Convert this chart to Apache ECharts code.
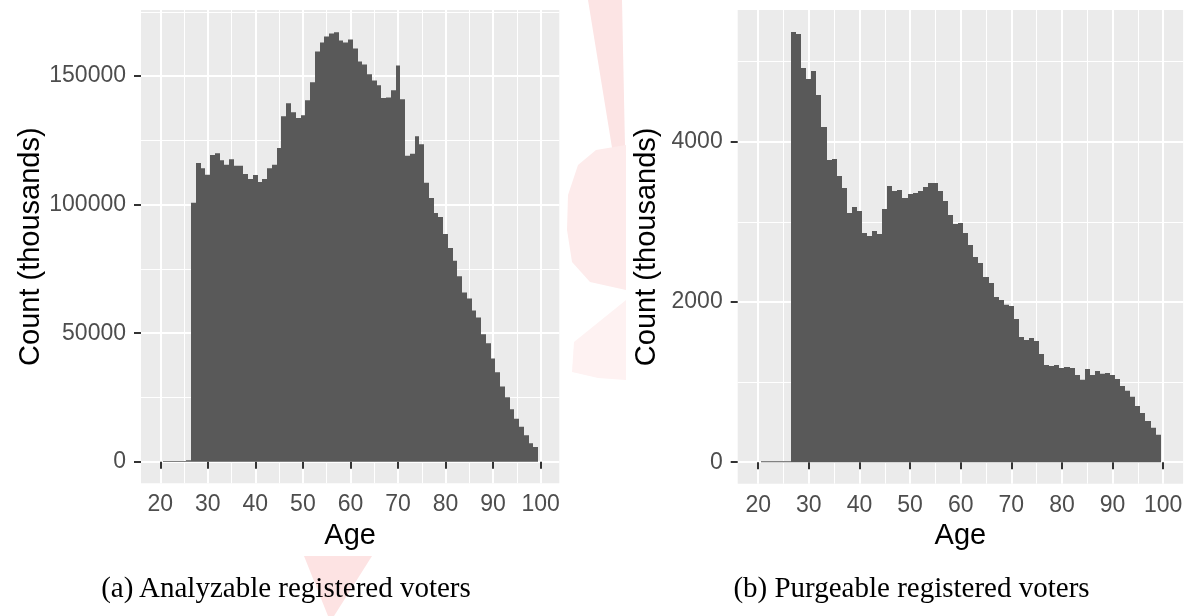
<!DOCTYPE html>
<html>
<head>
<meta charset="utf-8">
<script src="https://cdn.jsdelivr.net/npm/echarts@6/dist/echarts.min.js"></script>
<style>
html,body{margin:0;padding:0;background:#fff;}
#chart{width:1188px;height:616px;position:relative;}
.cap{position:absolute;font-family:"Liberation Serif","DejaVu Serif",serif;font-size:29px;color:#000;white-space:nowrap;transform:translateX(-50%);}
</style>
</head>
<body>
<div id="chart"></div>
<div class="cap" id="capA" style="left:286px;top:571px;">(a) Analyzable registered voters</div>
<div class="cap" id="capB" style="left:911.5px;top:571px;">(b) Purgeable registered voters</div>
<script>
// Bin centres (age, binwidth 1)
const AGES = [21,22,23,24,25,26,27,28,29,30,31,32,33,34,35,36,37,38,39,40,
  41,42,43,44,45,46,47,48,49,50,51,52,53,54,55,56,57,58,59,60,
  61,62,63,64,65,66,67,68,69,70,71,72,73,74,75,76,77,78,79,80,
  81,82,83,84,85,86,87,88,89,90,91,92,93,94,95,96,97,98,99];
const BIN_WIDTH = 1;

// (a) Analyzable registered voters, count (thousands)
const ANALYZABLE = [300,300,300,300,300,550,
  100700,116200,114200,111600,119300,120000,117300,115500,117700,115100,
  115100,111900,110000,111500,108800,110000,114200,115500,122000,134400,
  139400,135900,133700,134800,140600,147600,159600,163100,165400,166600,
  167000,163800,163100,164200,160700,155700,154500,150700,148300,146400,
  141500,141700,144500,154100,141000,119000,119800,126600,123500,108500,
  102600,96800,95200,88600,83100,78200,72200,65800,63500,58800,
  56100,49600,46100,40200,34800,29300,25100,20400,16700,13600,
  10300,7200,5700];

// (b) Purgeable registered voters, count (thousands)
const PURGEABLE = [12,12,12,12,12,12,
  5369,5344,4920,4782,4882,4583,4183,3772,3784,3572,
  3422,3110,3185,3135,2861,2823,2886,2848,3160,3447,
  3385,3397,3298,3348,3360,3385,3435,3485,3485,3385,
  3260,3085,2973,2985,2861,2711,2561,2486,2312,2237,
  2062,2025,1963,1950,1788,1563,1526,1551,1513,1351,
  1214,1201,1214,1176,1189,1176,1089,1027,1164,1089,
  1139,1102,1114,1089,1039,952,890,815,702,615,
  515,428,341];

const X_TICKS = [20,30,40,50,60,70,80,90,100];
const X_MINOR = [25,35,45,55,65,75,85,95];
const YA_TICKS = [0,50000,100000,150000];
const YA_MINOR = [25000,75000,125000,175000];
const YB_TICKS = [0,2000,4000];
const YB_MINOR = [1000,3000,5000];

const FILL = '#595959';
const PANEL = '#EBEBEB';
const FONT = 'Liberation Sans, Arial, Helvetica, sans-serif';
const TICK_FS = 23;
const TITLE_FS = 29;

function histData(vals){ return AGES.map((a,i)=>[a, vals[i]]); }

function renderBar(params, api){
  const c = api.value(0), v = api.value(1);
  const p0 = api.coord([c - BIN_WIDTH/2, v]);
  const p1 = api.coord([c + BIN_WIDTH/2, 0]);
  const x0 = Math.round(p0[0]), x1 = Math.round(p1[0]);
  return {
    type:'rect',
    shape:{x:x0, y:p0[1], width:x1-x0, height:p1[1]-p0[1]},
    style:{fill:FILL}
  };
}

function majorX(grid){
  return {
    gridIndex:grid, type:'value', min:15.95, max:103.93,
    name:'Age', nameLocation:'middle', nameGap:35,
    nameTextStyle:{fontSize:TITLE_FS, color:'#000', fontFamily:FONT},
    axisLine:{show:false},
    axisTick:{show:true, length:7, customValues:X_TICKS, lineStyle:{color:'#333333', width:2}},
    axisLabel:{show:true, customValues:X_TICKS, margin:10, fontSize:TICK_FS, color:'#4D4D4D', fontFamily:FONT,
      formatter:v=>String(v)},
    splitLine:{show:true, lineStyle:{color:'#FFFFFF', width:2}},
    z:1
  };
}
function minorX(grid){
  return {
    gridIndex:grid, type:'value', min:15.95, max:103.93, position:'bottom',
    axisLine:{show:false},
    axisTick:{show:false, customValues:X_MINOR},
    axisLabel:{show:false},
    splitLine:{show:true, lineStyle:{color:'#FFFFFF', width:1}},
    z:1
  };
}
function majorY(grid, min, max, ticks, gap){
  return {
    gridIndex:grid, type:'value', min:min, max:max,
    name:'Count (thousands)', nameLocation:'middle', nameGap:gap,
    nameTextStyle:{fontSize:TITLE_FS, color:'#000', fontFamily:FONT},
    axisLine:{show:false},
    axisTick:{show:true, length:7, customValues:ticks, lineStyle:{color:'#333333', width:2}},
    axisLabel:{show:true, customValues:ticks, margin:15, fontSize:TICK_FS, color:'#4D4D4D', fontFamily:FONT,
      formatter:v=>String(v)},
    splitLine:{show:true, lineStyle:{color:'#FFFFFF', width:2}},
    z:1
  };
}
function minorY(grid, min, max, ticks){
  return {
    gridIndex:grid, type:'value', min:min, max:max, position:'left',
    axisLine:{show:false},
    axisTick:{show:false, customValues:ticks},
    axisLabel:{show:false},
    splitLine:{show:true, lineStyle:{color:'#FFFFFF', width:1}},
    z:1
  };
}

// faint background watermark pieces visible between the two figures
const watermark = [
  {type:'polygon', z:-10, silent:true, shape:{points:[[588,0],[622,0],[626,195],[614,160]]}, style:{fill:'#FCE4E4'}},
  {type:'polygon', z:-10, silent:true, shape:{points:[[626,145],[626,290],[590,282],[572,262],[567,230],[568,195],[578,165],[596,150]]}, style:{fill:'#FDEBEB'}},
  {type:'polygon', z:-10, silent:true, shape:{points:[[626,300],[626,380],[598,378],[572,372],[574,342]]}, style:{fill:'#FEF2F2'}},
  {type:'polygon', z:-10, silent:true, shape:{points:[[304,556],[372,556],[334,616],[328,616]]}, style:{fill:'#FDE3E3'}}
];

const chart = echarts.init(document.getElementById('chart'), null, {renderer:'canvas'});
chart.setOption({
  animation:false,
  backgroundColor:'transparent',
  textStyle:{fontFamily:FONT},
  graphic:watermark,
  grid:[
    {left:141, top:10, width:418.3, height:473.3, show:true, backgroundColor:PANEL, borderWidth:0},
    {left:737.7, top:10, width:445.4, height:473.7, show:true, backgroundColor:PANEL, borderWidth:0}
  ],
  xAxis:[majorX(0), minorX(0), majorX(1), minorX(1)],
  yAxis:[
    majorY(0, -8370, 175700, YA_TICKS, 96), minorY(0, -8370, 175700, YA_MINOR),
    majorY(1, -268.7, 5642.7, YB_TICKS, 76), minorY(1, -268.7, 5642.7, YB_MINOR)
  ],
  series:[
    {type:'custom', xAxisIndex:0, yAxisIndex:0, renderItem:renderBar, data:histData(ANALYZABLE), encode:{x:0,y:1}, clip:true},
    {type:'custom', xAxisIndex:2, yAxisIndex:2, renderItem:renderBar, data:histData(PURGEABLE), encode:{x:0,y:1}, clip:true}
  ]
});
</script>
</body>
</html>
